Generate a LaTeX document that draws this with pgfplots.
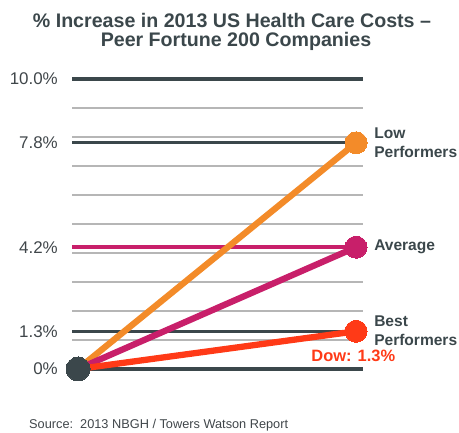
\documentclass[border=0pt]{standalone}
\usepackage{pgfplots}
\pgfplotsset{compat=1.18}
\usepackage{fontspec}
\setmainfont{Liberation Sans}
\definecolor{dk}{RGB}{59,71,75}
\definecolor{txt}{RGB}{64,70,74}
\definecolor{thin}{RGB}{182,182,182}
\definecolor{cor}{RGB}{243,139,41}
\definecolor{cmag}{RGB}{200,31,106}
\definecolor{cred}{RGB}{255,58,23}
\begin{document}
\begin{tikzpicture}[x=1bp,y=1bp]
\useasboundingbox (0,0) rectangle (459,433);
\node[anchor=base,font=\fontsize{19.7}{22}\selectfont\bfseries,text=dk,inner sep=0pt] at (232,433-28) {\% Increase in 2013 US Health Care Costs --};
\node[anchor=base,font=\fontsize{19.7}{22}\selectfont\bfseries,text=dk,inner sep=0pt] at (236,433-47) {Peer Fortune 200 Companies};
\node[anchor=base west,font=\fontsize{12.8}{15}\selectfont,text=txt,inner sep=0pt] at (29,433-429) {Source:\ \ 2013 NBGH / Towers Watson Report};
\begin{axis}[
  at={(72bp,64bp)}, anchor=south west,
  scale only axis, width=291bp, height=290bp,
  xmin=-0.0216, xmax=1.025, ymin=0, ymax=10,
  clip=false,
  axis line style={draw=none},
  major tick length=0pt, minor tick length=0pt,
  xtick=\empty,
  ytick={0,1.3,4.2,7.8,10},
  yticklabels={0\%,1.3\%,4.2\%,7.8\%,10.0\%},
  minor ytick={1,2,3,4,5,6,7,8,9},
  ymajorgrids, yminorgrids,
  major grid style={line width=3.3bp, color=dk},
  minor grid style={line width=1.3bp, color=thin},
  yticklabel style={font=\fontsize{17}{20}\selectfont, text=txt, anchor=east, inner sep=0pt, xshift=-14bp},
]
\addplot[cmag, line width=3.5bp] coordinates {(-0.0216,4.2) (1.025,4.2)};
\addplot[cor, line width=6.3bp, mark=*, mark size=11bp, mark options={fill=cor,draw=cor,line width=0pt}, mark indices={2}] coordinates {(0,0) (1,7.8)};
\addplot[cmag, line width=6.3bp, mark=*, mark size=11bp, mark options={fill=cmag,draw=cmag,line width=0pt}, mark indices={2}] coordinates {(0,0) (1,4.2)};
\addplot[cred, line width=6.3bp, mark=*, mark size=11bp, mark options={fill=cred,draw=cred,line width=0pt}, mark indices={2}] coordinates {(0,0) (1,1.3)};
\addplot[only marks, mark=*, mark size=12bp, mark options={fill=dk,draw=dk,line width=0pt}] coordinates {(0,0)};
\node[anchor=west, align=left, font=\fontsize{15.6}{19}\selectfont\bfseries, text=dk, inner sep=0pt] at (axis cs:1,7.8) [xshift=18bp] {Low\\Performers};
\node[anchor=west, align=left, font=\fontsize{15.6}{19}\selectfont\bfseries, text=dk, inner sep=0pt] at (axis cs:1,4.2) [xshift=18bp] {Average};
\node[anchor=west, align=left, font=\fontsize{15.6}{19}\selectfont\bfseries, text=dk, inner sep=0pt] at (axis cs:1,1.3) [xshift=18bp,yshift=1bp] {Best\\Performers};
\node[font=\fontsize{16.5}{19}\selectfont\bfseries, text=cred, inner sep=0pt] at (axis cs:0.99,0.45) {Dow: 1.3\%};
\end{axis}
\end{tikzpicture}
\end{document}
